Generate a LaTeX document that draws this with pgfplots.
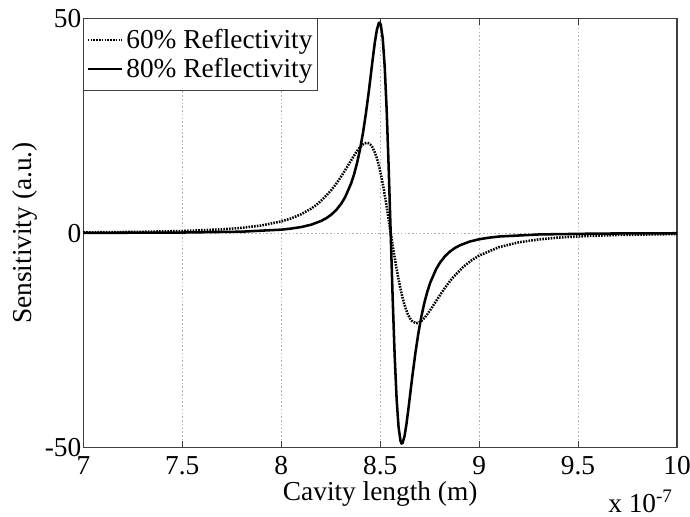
\documentclass[border=0pt]{standalone}
\usepackage{fontspec}
\setmainfont{Liberation Serif}
\usepackage{pgfplots}
\pgfplotsset{compat=1.18}
\begin{document}%
\begin{tikzpicture}[font=\fontsize{20.5}{24}\selectfont]
\begin{axis}[
  scale only axis, width=445pt, height=322pt,
  xmin=7, xmax=10, ymin=-50, ymax=50,
  xtick={7,7.5,8,8.5,9,9.5,10},
  xticklabels={7,7.5,8,8.5,9,9.5,10},
  ytick={-50,0,50}, yticklabels={-50,0,50},
  yticklabel style={xshift=2pt},
  xticklabel style={yshift=-3pt},
  grid=major,
  major grid style={dash pattern=on 1.2pt off 1.6pt, black!30, line width=0.5pt},
  tick align=inside, major tick length=5pt,
  tick style={black!75, line width=0.6pt},
  axis line style={black!75, line width=0.8pt},
  xlabel={Cavity length (m)}, ylabel={Sensitivity (a.u.)},
  xlabel style={yshift=2pt},
  ylabel style={yshift=-1.5pt},
  legend style={at={(0,1)}, anchor=north west, draw=black!75, line width=0.6pt,
    inner xsep=2pt, inner ysep=6pt, row sep=2pt, font=\fontsize{20.5}{24}\selectfont},
  legend cell align=left,
  legend image code/.code={\draw[#1] (0pt,0pt) -- (26pt,0pt);},
]
\addplot[black, line width=1.9pt, dash pattern=on 1.2pt off 0.9pt] coordinates {
(7.0,0.154) (7.3,0.288) (7.5,0.475) (7.7,0.857) (7.8,1.207) (7.9,1.765)
(8.0,2.705) (8.05,3.41) (8.1,4.365) (8.15,5.66) (8.175,6.47) (8.2,7.43) (8.25,9.82)
(8.275,11.30) (8.3,12.96) (8.325,14.79)
(8.35,16.70) (8.38,18.90) (8.39,19.54) (8.41,20.55) (8.42,20.86) (8.43,21.0)
(8.44,20.92) (8.45,20.61) (8.46,20.02) (8.47,19.12) (8.48,17.89)
(8.49,16.33) (8.50,14.42) (8.51,12.20) (8.52,9.68) (8.53,6.91) (8.54,3.97) (8.553,0)
(8.56,-2.01) (8.57,-4.83) (8.58,-7.54) (8.59,-10.08) (8.60,-12.40) (8.61,-14.46)
(8.62,-16.25) (8.63,-17.73) (8.64,-18.92) (8.65,-19.82) (8.66,-20.45) (8.68,-20.99)
(8.695,-20.87) (8.71,-20.41) (8.725,-19.69) (8.74,-18.80) (8.76,-17.45) (8.78,-16.02)
(8.80,-14.60) (8.82,-13.23) (8.845,-11.65) (8.87,-10.22) (8.92,-7.87) (8.96,-6.41)
(9.0,-5.25) (9.1,-3.29) (9.2,-2.16) (9.3,-1.49) (9.4,-1.06) (9.5,-0.78)
(9.7,-0.45) (10.0,-0.23)
};
\addlegendentry{60\% Reflectivity}
\addplot[black, line width=1.9pt] coordinates {
(7.0,0.037) (7.5,0.12) (7.8,0.32) (8.003,0.80) (8.05,1.04) (8.103,1.42) (8.153,1.97)
(8.203,2.85) (8.228,3.47) (8.253,4.29) (8.278,5.37) (8.303,6.83) (8.323,8.36)
(8.353,11.54) (8.368,13.68) (8.383,16.28) (8.398,19.46) (8.413,23.30) (8.428,27.89)
(8.443,33.16) (8.453,36.96)
(8.463,40.79) (8.473,44.38) (8.483,47.27) (8.493,48.87) (8.498,48.96) (8.503,48.46)
(8.513,45.24) (8.523,38.6) (8.533,28.37) (8.543,15.08) (8.553,0)
(8.563,-15.08) (8.573,-28.37) (8.583,-38.6) (8.593,-45.24) (8.603,-48.46)
(8.608,-48.96) (8.613,-48.87) (8.623,-47.27) (8.633,-44.38) (8.643,-40.79)
(8.653,-36.96) (8.663,-33.16) (8.678,-27.89) (8.693,-23.30) (8.708,-19.46)
(8.723,-16.28) (8.738,-13.68) (8.753,-11.54) (8.783,-8.36) (8.803,-6.83)
(8.828,-5.37) (8.853,-4.29) (8.878,-3.47) (8.903,-2.85) (8.953,-1.97)
(9.003,-1.42) (9.056,-1.04) (9.103,-0.80) (9.303,-0.325)
(9.603,-0.12) (10.0,-0.046)
};
\addlegendentry{80\% Reflectivity}
\end{axis}
\node[anchor=base east, inner sep=0pt] at ([xshift=-3pt,yshift=-48.5pt]current axis.south east)
  {x 10\textsuperscript{-7}};
\pgfresetboundingbox
\path ([xshift=-62.5pt,yshift=-51.5pt]current axis.south west)
  rectangle ([xshift=9.75pt,yshift=13.7pt]current axis.north east);
\end{tikzpicture}%
\end{document}
